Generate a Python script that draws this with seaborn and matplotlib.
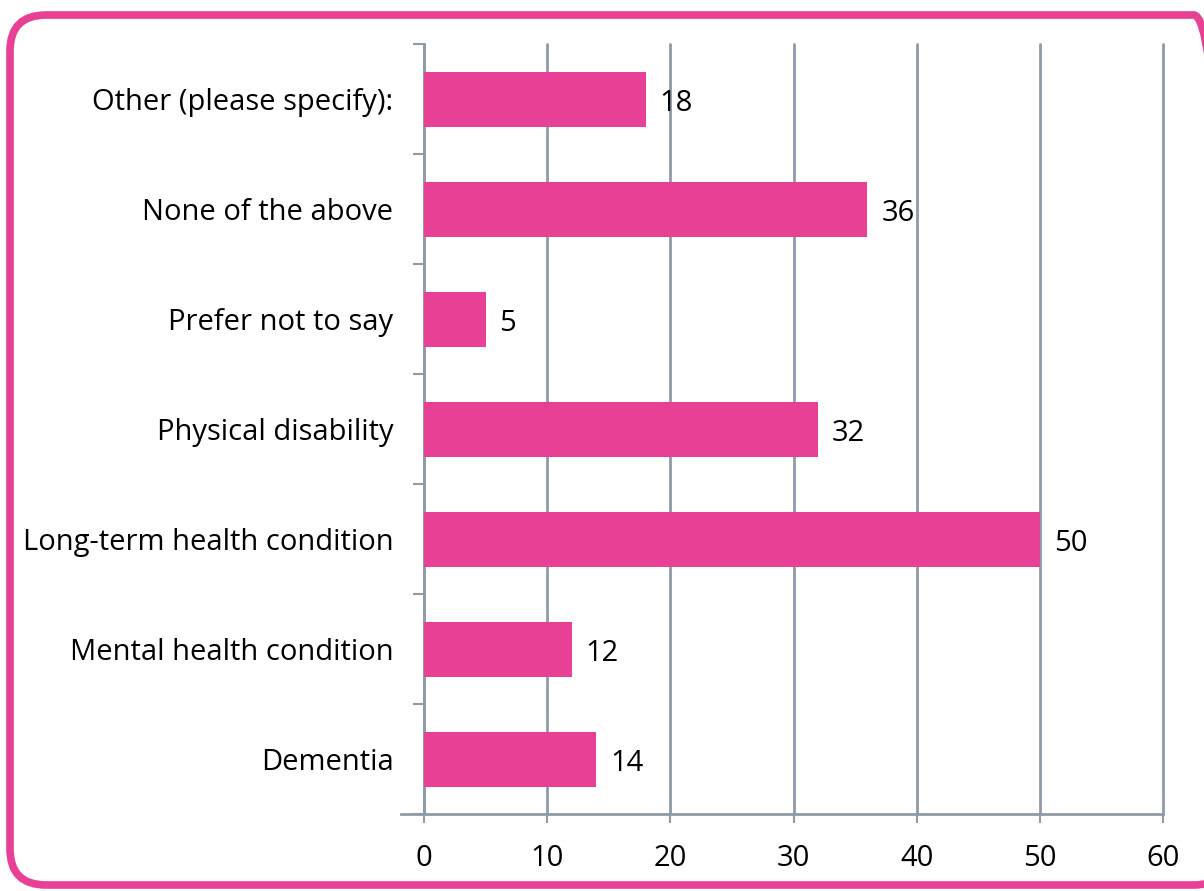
import matplotlib
matplotlib.use("Agg")
import matplotlib.pyplot as plt
import seaborn as sns
import pandas as pd
from matplotlib.patches import FancyBboxPatch

categories = ["Other (please specify):", "None of the above", "Prefer not to say",
              "Physical disability", "Long-term health condition",
              "Mental health condition", "Dementia"]
values = [18, 36, 5, 32, 50, 12, 14]
x_ticks = [0, 10, 20, 30, 40, 50, 60]

sns.set_theme(style="white")
plt.rcParams['font.family'] = ['Open Sans', 'DejaVu Sans']

BAR = "#E84095"
GRID = "#8E9BA8"
FS = 21

df = pd.DataFrame({"category": categories, "value": values})

fig = plt.figure(figsize=(12.04, 8.91), dpi=100)
ax = fig.add_axes([424/1204, 1-814/891, (1163-424)/1204, (814-44)/891])

sns.barplot(data=df, x="value", y="category", orient="h", color=BAR,
            width=0.5, saturation=1, linewidth=0, ax=ax, zorder=3)

n = len(categories)
ax.set_xlim(0, 60)
ax.set_ylim(n-0.5, -0.5)
ax.set_xticks(x_ticks)
ax.set_xticklabels([str(t) for t in x_ticks], fontsize=FS, color="black")
ax.xaxis.grid(True, color=GRID, linewidth=2, zorder=0)
for gl in ax.get_xgridlines():
    gl.set_clip_on(False)
ax.set_axisbelow(True)

# boundary ticks as majors (no labels), category labels as minors
ax.set_yticks([i - 0.5 for i in range(n+1)])
ax.set_yticklabels([])
ax.set_yticks(range(n), minor=True)
ax.set_yticklabels(categories, minor=True, fontsize=FS, color="black")
ax.tick_params(axis="y", which="major", length=8, width=1.5, color=GRID, direction="out", left=True)
ax.tick_params(axis="y", which="minor", length=0, pad=22)
ax.tick_params(axis="x", which="major", length=6.5, width=1.5, color=GRID, direction="out", bottom=True, pad=15)

for s in ["top", "right"]:
    ax.spines[s].set_visible(False)
for s in ["left", "bottom"]:
    ax.spines[s].set_color(GRID)
    ax.spines[s].set_linewidth(2)
ax.spines["bottom"].set_bounds(-1.85, 60)
ax.set_xlabel("")
ax.set_ylabel("")

for i, v in enumerate(values):
    ax.annotate(str(v), xy=(v, i), xytext=(10, -3), textcoords="offset points",
                ha="left", va="center", fontsize=FS, color="black")

border = FancyBboxPatch((10/1204, 1-885/891), (1230-10)/1204, (885-15)/891,
                        boxstyle="round,pad=0,rounding_size=0.03",
                        transform=fig.transFigure, fill=False,
                        edgecolor=BAR, linewidth=5.5, clip_on=False,
                        mutation_aspect=1204/891)
fig.patches.append(border)

fig.savefig("out.png", dpi=100)
